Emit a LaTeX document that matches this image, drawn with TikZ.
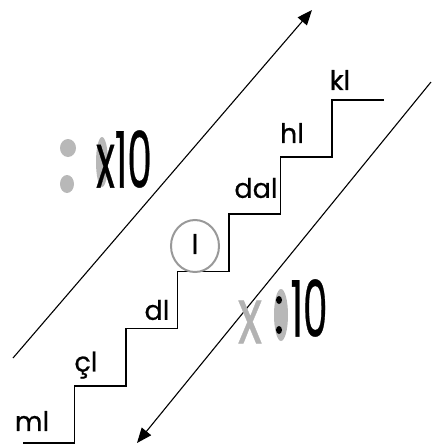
\documentclass[tikz,border=0pt]{standalone}
\usepackage{fontspec}
\setmainfont{Poppins}
\newfontfamily\stairfont{Poppins}[FakeBold=0.6]
\usetikzlibrary{arrows.meta}
\tikzset{
  unit/.style={font=\stairfont\fontsize{27}{27}\selectfont, inner sep=0pt},
  factor/.style={font=\stairfont\fontsize{78}{78}\selectfont, inner sep=0pt},
  rubbed/.style={fill=black!28, draw=none},
  updown/.style={line width=1.1pt, -{Triangle[length=15pt,width=12pt]}},
}
\begin{document}
\begin{tikzpicture}[x=1pt, y=-1pt]
    \useasboundingbox (0,0) rectangle (433,445);
    \draw[line width=1.6pt] (23,443) \foreach \s in {1,...,6} { -- ++(51.5,0) -- ++(0,-57.2) } -- ++(51.5,0);
    \node[unit] (ml) at (32,421) {ml};
    \node[unit] (cl) at (86,365) {çl};
    \node[unit] (dl) at (157,310) {dl};
    \node[unit] (l) at (195,244) {l};
    \node[unit] (dal) at (256,188) {dal};
    \node[unit] (hl) at (292,133) {hl};
    \node[unit] (kl) at (340,80) {kl};
    \draw[black!40, line width=2pt] (195,246) ellipse (24pt and 26pt);
    \coordinate (upfrom) at (13,358);
    \coordinate (upto) at (312,10);
    \coordinate (downfrom) at (431,82);
    \coordinate (downto) at (137,443);
    \draw[updown] (upfrom) -- (upto);
    \draw[updown] (downfrom) -- (downto);
    % rubbed out marks
    \fill[rubbed] (68,148) ellipse (8pt and 9pt);
    \fill[rubbed] (67,184) ellipse (7pt and 9pt);
    \fill[rubbed] (102,162) ellipse (6pt and 25pt);
    \node[factor] (times) at (124,159) {\scalebox{0.5}[1]{x10}};
    \node[factor, black!30] (crossed) at (250,322) {\scalebox{0.65}[1]{x}};
    \fill[rubbed] (281,315) ellipse (7pt and 26pt);
    \fill (279,300) ellipse (3pt and 4pt);
    \fill (279,330) ellipse (3pt and 4pt);
    \node[factor] (divide) at (309,308) {\scalebox{0.5}[1]{10}};
\end{tikzpicture}
\end{document}
